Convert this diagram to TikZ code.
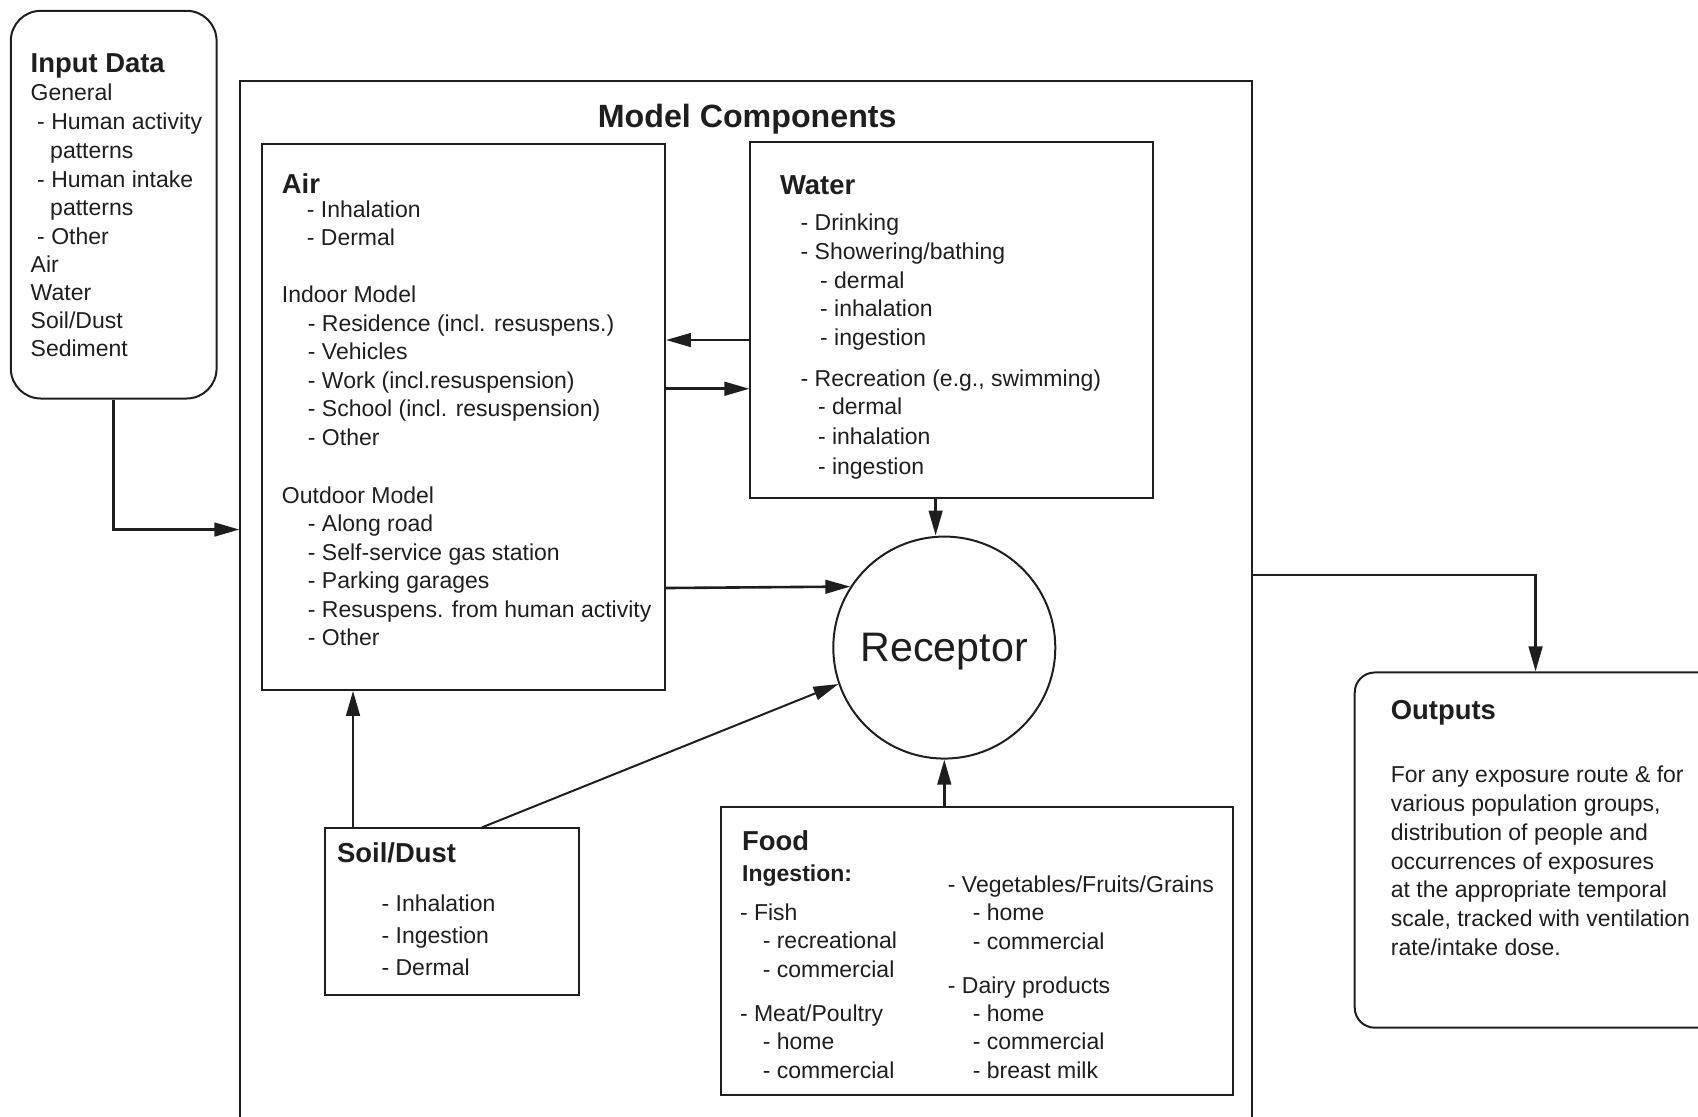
\documentclass[tikz,border=0pt]{standalone}
\usepackage{fontspec}
\setmainfont{Liberation Sans}
\usetikzlibrary{arrows.meta,fit,calc}
\definecolor{ink}{HTML}{1E1E1E}

% a column of text lines at one x, with a fixed baseline step
\newcommand{\stackrows}[5]{%
  \foreach \rowtext [count=\k from 0] in {#5}
    {\node[body] (#1-\k) at (#2,{#3+#4*\k}) {\rowtext};}%
}

\begin{document}
\begin{tikzpicture}[x=0.54145pt, y=-0.54145pt,
  box/.style={draw=ink, line width=1pt, inner sep=0pt},
  body/.style={font=\fontsize{11.5}{14}\selectfont, text=ink, anchor=base west, inner sep=0pt},
  head/.style={font=\fontsize{13.7}{16}\selectfont\bfseries, text=ink, anchor=base west, inner sep=0pt},
  arr/.style={draw=ink, line width=1.3pt, -{Triangle[length=12.5pt,width=6.8pt]}},
]
\useasboundingbox (0,0) rectangle (1568,1031);
\clip (0,0) rectangle (1568,1031);

% ---- boxes ----
\node[box, rounded corners=15pt, fit={(10,10) (200,368)}] (input) {};
\node[box, fit={(222,75) (1156,1060)}] (model) {};
\node[box, fit={(242,133) (614,637)}] (air) {};
\node[box, fit={(693,131) (1065,460)}] (water) {};
\node[box, fit={(300,765) (535,919)}] (soil) {};
\node[box, fit={(666,745) (1139,1011)}] (food) {};
\node[box, rounded corners=10pt, fit={(1251,621) (1620,949)}] (outputs) {};
\node[draw=ink, line width=1pt, circle, minimum size=111pt, inner sep=0pt,
      font=\fontsize{20.6}{24}\selectfont, text=ink, text depth=0pt] (receptor) at (872,598) {Receptor};

% ---- connector guides ----
\coordinate (yIn) at (0,489);
\coordinate (yWA) at (0,314);
\coordinate (yAW) at (0,359);
\coordinate (yAR) at (0,543);
\coordinate (yMO) at (0,531);
\coordinate (xWR) at (864,0);
\coordinate (xSA) at (326,0);
\coordinate (xSR) at (445,0);
\coordinate (xMO) at (1418,0);

% ---- connectors ----
\draw[arr] (input.south) |- (model.west |- yIn);
\draw[arr] (water.west |- yWA) -- (air.east |- yWA);
\draw[arr] (air.east |- yAW) -- (water.west |- yAW);
\draw[arr] (water.south -| xWR) -- (receptor.north -| xWR);
\draw[arr] (air.east |- yAR) -- (receptor.147);
\draw[arr] (soil.north -| xSA) -- (air.south -| xSA);
\draw[arr, line width=1pt] (soil.north -| xSR) -- (receptor.199);
\draw[arr] (food.north -| receptor.south) -- (receptor.south);
\draw[arr] (model.east |- yMO) -| (outputs.north -| xMO);

\begin{scope}[shift={(0,2)}]
% ---- title ----
\node[font=\fontsize{16.1}{19}\selectfont\bfseries, text=ink, anchor=base, inner sep=0pt]
  (modeltitle) at (690,116) {Model Components};

% ---- input data ----
\node[head] (in-h) at (28,65) {Input Data};
\node[body] (in-1) at (28,91) {General};
\node[body] (in-2) at (34,117.7) {- Human activity};
\node[body] (in-3) at (46,144.2) {patterns};
\node[body] (in-4) at (34,170.7) {- Human intake};
\node[body] (in-5) at (46,197.2) {patterns};
\node[body] (in-6) at (34,223.5) {- Other};
\stackrows{in-src}{28}{249.5}{25.8}{Air,Water,Soil/Dust,Sediment}

% ---- air ----
\node[head] (air-h) at (260,177) {Air};
\stackrows{air-a}{283}{198.5}{26.4}{- Inhalation,- Dermal}
\node[body] (air-in) at (260,277.5) {Indoor Model};
\stackrows{air-b}{284}{303.8}{26.4}{- Residence (incl. resuspens.),- Vehicles,- Work (incl.resuspension),- School (incl. resuspension),- Other}
\node[body] (air-out) at (260,462.5) {Outdoor Model};
\stackrows{air-c}{284}{488.8}{26.4}{- Along road,- Self-service gas station,- Parking garages,- Resuspens. from human activity,- Other}

% ---- water ----
\node[head] (wat-h) at (720,178) {Water};
\stackrows{wat-a}{739}{211}{26.5}{- Drinking,- Showering/bathing}
\stackrows{wat-b}{757}{264}{26.5}{- dermal,- inhalation,- ingestion}
\node[body] (wat-r) at (739,355) {- Recreation (e.g., swimming)};
\stackrows{wat-c}{755}{381}{27.5}{- dermal,- inhalation,- ingestion}

% ---- soil / dust ----
\node[head] (soil-h) at (311,794) {Soil/Dust};
\stackrows{soil-a}{352}{840}{29.5}{- Inhalation,- Ingestion,- Dermal}

% ---- food ----
\node[head] (food-h) at (685,783) {Food};
\node[head, font=\fontsize{11.5}{14}\selectfont\bfseries] (food-i) at (685,812) {Ingestion:};
\node[body] (food-fish) at (683,848) {- Fish};
\stackrows{food-a}{704}{874}{27}{- recreational,- commercial}
\node[body] (food-meat) at (683,941) {- Meat/Poultry};
\stackrows{food-b}{704}{967}{27}{- home,- commercial}
\node[body] (food-veg) at (875,822) {- Vegetables/Fruits/Grains};
\stackrows{food-c}{898}{848}{27}{- home,- commercial}
\node[body] (food-dairy) at (875,915) {- Dairy products};
\stackrows{food-d}{898}{941}{26.5}{- home,- commercial,- breast milk}

% ---- outputs ----
\node[head] (out-h) at (1284,662) {Outputs};
\stackrows{out-t}{1284}{721}{26.5}{For any exposure route \& for,{various population groups,},distribution of people and,occurrences of exposures,at the appropriate temporal,{scale, tracked with ventilation},rate/intake dose.}
\end{scope}

\end{tikzpicture}
\end{document}
